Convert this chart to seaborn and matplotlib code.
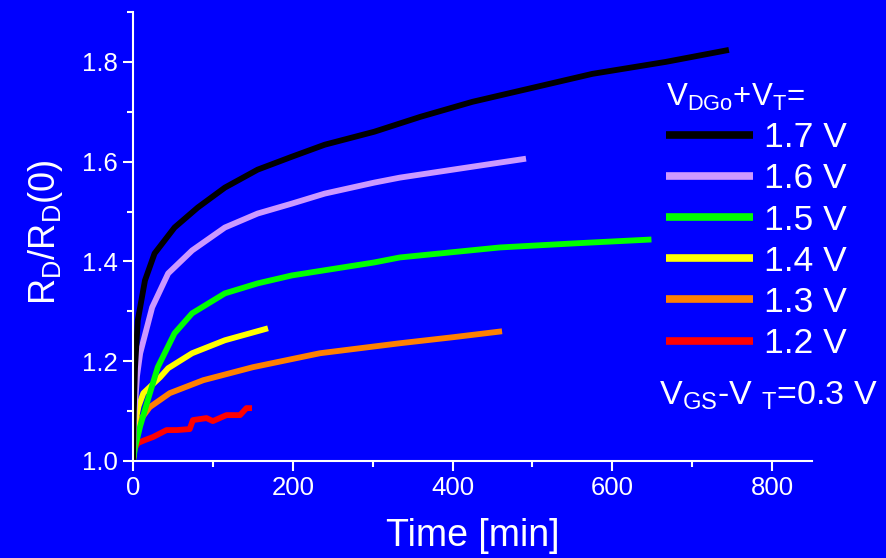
import numpy as np
import pandas as pd
import matplotlib
matplotlib.use("Agg")
import matplotlib.pyplot as plt
import seaborn as sns

# ---- data ----
labels = ["1.2 V", "1.3 V", "1.4 V", "1.5 V", "1.6 V", "1.7 V"]
colors = ["#FF0000", "#FF8000", "#FFFF00", "#00FF00", "#CC99FF", "#000000"]

t_12 = [0, 2, 6, 15, 25, 42, 55, 71, 75, 92, 100, 117, 134, 142, 149]
r_12 = [1.00, 1.025, 1.036, 1.042, 1.048, 1.062, 1.062, 1.064, 1.082, 1.086, 1.080, 1.092, 1.092, 1.106, 1.106]

t_13 = [0, 3, 8, 21, 46, 88, 150, 234, 334, 400, 462]
r_13 = [1.00, 1.06, 1.08, 1.108, 1.136, 1.162, 1.188, 1.216, 1.236, 1.248, 1.260]

t_14 = [0, 3, 7, 13, 34, 44, 74, 115, 169]
r_14 = [1.00, 1.08, 1.11, 1.136, 1.168, 1.186, 1.216, 1.242, 1.266]

t_15 = [0, 3, 9, 20, 31, 52, 74, 115, 156, 199, 302, 334, 459, 550, 649]
r_15 = [1.00, 1.03, 1.07, 1.13, 1.188, 1.256, 1.296, 1.336, 1.356, 1.372, 1.398, 1.408, 1.428, 1.436, 1.444]

t_16 = [0, 2, 5, 9, 24, 44, 74, 115, 156, 199, 240, 302, 334, 417, 492]
r_16 = [1.00, 1.10, 1.17, 1.216, 1.308, 1.376, 1.422, 1.468, 1.496, 1.516, 1.536, 1.558, 1.568, 1.588, 1.606]

t_17 = [0, 1, 2.5, 6, 15, 27, 52, 81, 115, 156, 199, 240, 302, 360, 425, 500, 575, 667, 746]
r_17 = [1.00, 1.10, 1.186, 1.282, 1.362, 1.416, 1.468, 1.508, 1.548, 1.584, 1.610, 1.634, 1.660, 1.690, 1.720, 1.748, 1.776, 1.800, 1.824]

series_t = [t_12, t_13, t_14, t_15, t_16, t_17]
series_r = [r_12, r_13, r_14, r_15, r_16, r_17]

frames = []
for lab, t, r in zip(labels, series_t, series_r):
    frames.append(pd.DataFrame({"t": t, "r": r, "V": lab}))
df = pd.concat(frames, ignore_index=True)

# ---- style ----
sns.set_theme(style="ticks")
BG = "#0000FF"
plt.rcParams["font.family"] = ["Liberation Sans", "DejaVu Sans"]
plt.rcParams["mathtext.fontset"] = "custom"
plt.rcParams["mathtext.rm"] = "Liberation Sans"

fig = plt.figure(figsize=(8.86, 5.58), dpi=100, facecolor=BG)
ax = fig.add_axes([133/886, 97/558, (812-133)/886, (461-12)/558])
ax.set_facecolor(BG)

sns.lineplot(data=df, x="t", y="r", hue="V", hue_order=labels,
             palette=dict(zip(labels, colors)), sort=False, estimator=None,
             linewidth=4.2, ax=ax, legend=True)
for ln in ax.lines:
    ln.set_solid_capstyle("butt")
    ln.set_solid_joinstyle("round")

ax.set_xlim(0, 850)
ax.set_ylim(1.0, 1.9)
ax.set_xticks([0, 200, 400, 600, 800])
ax.set_xticks([100, 300, 500, 700], minor=True)
ax.set_yticks([1.0, 1.2, 1.4, 1.6, 1.8])
ax.set_yticks([1.1, 1.3, 1.5, 1.7, 1.9], minor=True)
ax.yaxis.set_major_formatter(matplotlib.ticker.FormatStrFormatter("%.1f"))

for s in ["top", "right"]:
    ax.spines[s].set_visible(False)
for s in ["left", "bottom"]:
    ax.spines[s].set_color("white")
    ax.spines[s].set_linewidth(1.5)
ax.tick_params(which="major", direction="out", length=7, width=1.5, colors="white",
               labelsize=18.5, pad=4)
ax.tick_params(which="minor", direction="out", length=4, width=1.5, colors="white")

ax.set_xlabel("Time [min]", color="white", fontsize=27, labelpad=13)
ax.set_ylabel(r"$\mathregular{R_D/R_D(0)}$", color="white", fontsize=26)
ax.yaxis.set_label_coords(-0.10, 0.51)

handles, labs = ax.get_legend_handles_labels()
handles = handles[::-1]
labs = labs[::-1]
leg = ax.legend(handles, labs, title=r"V$_\mathregular{DGo}$+V$_\mathregular{T}$=",
                loc="upper left", bbox_to_anchor=(666/886, 1-82/558),
                bbox_transform=fig.transFigure, frameon=False,
                fontsize=25.5, title_fontsize=22.5, handlelength=2.45,
                handletextpad=0.33, labelspacing=0.23, borderpad=0, borderaxespad=0)
leg._legend_box.align = "left"
leg.get_title().set_color("white")
for txt in leg.get_texts():
    txt.set_color("white")
for h in leg.legend_handles:
    h.set_linewidth(5.5)
    h.set_solid_capstyle("butt")

fig.text(659/886, 1-396/558, r"V$_\mathregular{GS}$-V $_\mathregular{T}$=0.3 V",
         color="white", fontsize=24.5, va="center", ha="left")

fig.savefig("out.png", dpi=100, facecolor=BG)
